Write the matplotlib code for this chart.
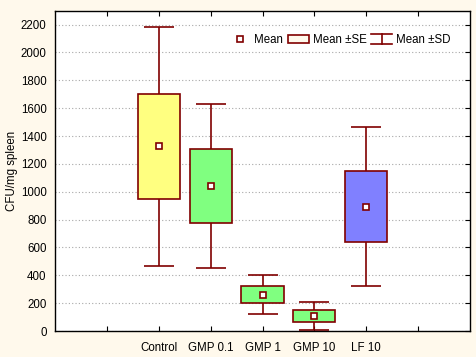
import numpy as np
import matplotlib
matplotlib.use("Agg")
import matplotlib.pyplot as plt
from matplotlib.lines import Line2D
from matplotlib.patches import Patch
from matplotlib.legend_handler import HandlerBase

groups = ["Control", "GMP 0.1", "GMP 1", "GMP 10", "LF 10"]
means = [1325, 1039, 262, 106, 893]
se = [380, 265, 63, 43, 254]
sd = [855, 588, 140, 100, 572]
colors = ["#FFFF80", "#80FF80", "#80FF80", "#80FF80", "#8080FF"]

edge = "#800000"
bg = "#FFF9EC"

plt.rcParams["font.family"] = ["Liberation Sans", "DejaVu Sans"]
plt.rcParams["font.size"] = 8.3


class SDHandler(HandlerBase):
    # I-beam symbol used by the SD entry
    def create_artists(self, legend, orig_handle, xd, yd, w, h, fontsize, trans):
        x0, x1 = -xd, -xd + w
        xm = (x0 + x1) / 2
        y0, y1 = -yd - 1, -yd + h + 1
        kw = dict(color=edge, lw=1.2, transform=trans)
        return [Line2D([x0, x1], [y1, y1], **kw),
                Line2D([xm, xm], [y0, y1], **kw),
                Line2D([x0, x1], [y0, y0], **kw)]


fig = plt.figure(figsize=(4.76, 3.57), dpi=100, facecolor=bg)
ax = fig.add_axes([55/476, 26/357, 415/476, 320.3/357])

pos = np.arange(2, 2 + len(groups))
m = np.array(means)
s = np.array(se)
d = np.array(sd)

ax.errorbar(pos, m, yerr=d, fmt="none", ecolor=edge, elinewidth=1.2,
            capsize=10.8, capthick=1.2, zorder=2)
ax.bar(pos, 2 * s, bottom=m - s, width=0.81, color=colors,
       edgecolor=edge, linewidth=1.2, zorder=3)
ax.plot(pos, m, "s", ms=4, mfc="white", mec=edge, mew=1.2, zorder=4)

ax.set_xlim(0, 8)
ax.set_ylim(0, 2300)
ax.set_yticks(np.arange(0, 2201, 200))
ax.set_xticks(np.arange(1, 8))
ax.set_xticklabels([""] + groups + [""])
ax.tick_params(direction="in", length=3.5, top=True, right=True, pad=4)
ax.tick_params(axis="y", left=False, pad=6)
ax.tick_params(axis="x", pad=8)
ax.grid(axis="y", linestyle=(0, (1, 2)), color="#a8a8a8", lw=0.8)
ax.set_axisbelow(True)
for sp in ax.spines.values():
    sp.set_linewidth(1)
ax.set_ylabel("CFU/mg spleen")
ax.yaxis.set_label_coords(-(55 - 18) / 415, 0.5)

handles = [Line2D([], [], ls="none", marker="s", ms=4, mfc="white", mec=edge, mew=1.2),
           Patch(facecolor=bg, edgecolor=edge, lw=1.2),
           "sd"]
labels = ["Mean", "Mean \u00b1SE", "Mean \u00b1SD"]
leg = fig.legend(handles, labels, ncol=3, frameon=False, loc="center",
                 bbox_to_anchor=(340/476, 1 - 40/357),
                 handler_map={str: SDHandler()},
                 handlelength=1.8, handletextpad=0.35, columnspacing=0.4)

fig.savefig("out.png", dpi=100, facecolor=bg)
